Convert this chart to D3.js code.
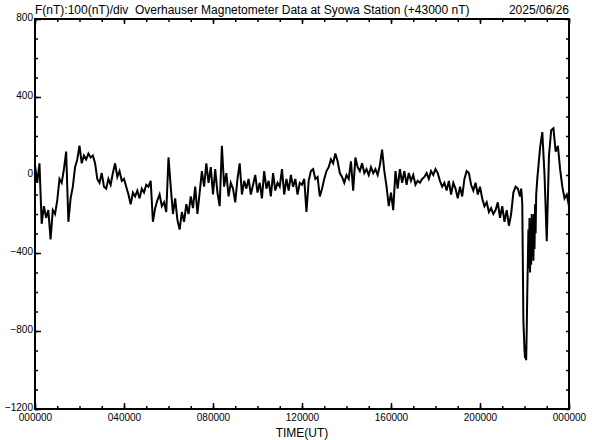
<!DOCTYPE html>
<html lang="en">
<head>
<meta charset="UTF-8">
<title>Overhauser Magnetometer Data at Syowa Station</title>
<script src="https://d3js.org/d3.v7.min.js"></script>
<style>
  body { margin: 0; background: #fff; }
  svg { display: block; }
  .ttl { font-family: "Liberation Sans", Arial, sans-serif; font-size: 12px; fill: #000; white-space: pre; }
  .tick text { font-family: "Liberation Sans", Arial, sans-serif; font-size: 10px; fill: #000; }
  .tick line { stroke: #000; stroke-width: 1.5px; }
</style>
</head>
<body>
<svg width="592" height="440"></svg>
<script>
// labels
const titleText = "F(nT):100(nT)/div  Overhauser Magnetometer Data at Syowa Station (+43000 nT)"
const dateText = "2025/06/26"
const xTitle = "TIME(UT)"
const xTickHours = [0, 4, 8, 12, 16, 20, 24]
const xTickLabels = ["000000", "040000", "080000", "120000", "160000", "200000", "000000"]
const yTicks = [800, 400, 0, -400, -800, -1200]

// F deviation from 43000 nT
// 00:00 - 21:42 UT, every 6 min
const quietStart = 0, quietStep = 0.1
const fQuiet = [
  50, -40, 60, -250, -160, -220, -180, -330, -180, -200,
  -130, -20, -40, 30, 120, -240, -120, -60, 40, 80,
  150, 60, 100, 80, 110, 90, 100, 60, -20, -40,
  10, -60, -70, -20, -50, 10, 60, -10, 20, -30,
  -20, -60, -100, -150, -90, -110, -80, -120, -70, -90,
  -50, -60, -30, -240, -170, -130, -100, -160, -140, -190,
  90, -60, -200, -120, -230, -280, -190, -240, -150, -200,
  -110, -170, -60, -200, -90, 20, -60, 60, -40, 40,
  -100, 30, -90, -160, 150, -60, 10, -110, -40, -70,
  -140, -20, 60, -100, -30, -70, -20, -100, -50, 0,
  -90, -40, -120, 20, -70, -30, -110, 10, -80, -40,
  -60, 30, -100, -20, -80, 0, -60, -20, -100, -40,
  -50, -20, -190, -30, 20, 30, -20, -10, -110, -70,
  -20, 20, 40, 80, 60, 110, 70, 10, -10, -40,
  0, -20, 70, -80, 90, 40, 20, 60, 10, 30,
  0, 40, 10, 30, 0, 50, 130, 20, -60, -160,
  -90, -180, 20, -70, 30, -40, 20, -50, 10, -30,
  0, -50, -30, -40, -20, -10, 10, -20, 20, 0,
  30, 10, -30, -60, -40, -80, -30, -100, -40, -70,
  -120, -60, -110, -20, 20, 10, -50, -80, -40, -100,
  -60, -120, -160, -140, -190, -170, -200, -180, -140, -220,
  -160, -240, -180, -260, -200, -90, -60, -70
]
// 21:48 - 22:34 UT, every 1.5 min (storm)
const stormStart = 21.8, stormStep = 0.025
const fStorm = [
  -110, -90, -70, -100, -150, -450, -750, -820, -900, -940,
  -880, -950, -800, -600, -450, -280, -480, -220, -500, -260,
  -460, -200, -420, -230, -440, -200, -380, -150, -300, -100,
  -60, -20
]
// 22:42 - 24:00 UT, every 6 min
const recoveryStart = 22.7, recoveryStep = 0.1
const fRecovery = [
  140, 220, 0, -340, 100, 230, 240, 120, 150, 30,
  -60, -120, -100, -160
]

const svg = d3.select("svg")
const mLeft = 35, mRight = 569, mTop = 19, mBottom = 409

const x = d3.scaleLinear().domain([0, 24]).range([mLeft, mRight])
const y = d3.scaleLinear().domain([-1200, 800]).range([mBottom, mTop])

function toPoints(vals, start, step) {
  return vals.map((v, i) => ({ h: start + i * step, v: v }))
}
const series = toPoints(fQuiet, quietStart, quietStep)
  .concat(toPoints(fStorm, stormStart, stormStep))
  .concat(toPoints(fRecovery, recoveryStart, recoveryStep))

// hourly minor ticks, 4-hourly major ticks
const minorX = d3.range(0, 25, 1)
const minorY = d3.range(-1200, 801, 100)

function noDomain(g) { g.select(".domain").remove() }

svg.append("g").attr("transform", `translate(0,${mBottom})`)
  .call(d3.axisBottom(x).tickValues(minorX).tickSize(-3).tickFormat(""))
  .call(noDomain)
svg.append("g").attr("transform", `translate(0,${mBottom})`)
  .call(d3.axisBottom(x).tickValues(xTickHours).tickSize(-6).tickPadding(9)
    .tickFormat((d, i) => xTickLabels[i]))
  .call(noDomain)
  .selectAll("text").attr("dy", "0.3em")

svg.append("g").attr("transform", `translate(0,${mTop})`)
  .call(d3.axisTop(x).tickValues(minorX).tickSize(-3).tickFormat(""))
  .call(noDomain)
svg.append("g").attr("transform", `translate(0,${mTop})`)
  .call(d3.axisTop(x).tickValues(xTickHours).tickSize(-5).tickFormat(""))
  .call(noDomain)

svg.append("g").attr("transform", `translate(${mLeft},0)`)
  .call(d3.axisLeft(y).tickValues(minorY).tickSize(-3).tickFormat(""))
  .call(noDomain)
svg.append("g").attr("transform", `translate(${mLeft},0)`)
  .call(d3.axisLeft(y).tickValues(yTicks).tickSize(-6).tickPadding(2).tickFormat(d3.format("d")))
  .call(noDomain)
  .selectAll("text").attr("dy", "0.12em")

svg.append("g").attr("transform", `translate(${mRight},0)`)
  .call(d3.axisRight(y).tickValues(minorY).tickSize(-3).tickFormat(""))
  .call(noDomain)

// frame
svg.append("rect")
  .attr("x", mLeft).attr("y", mTop)
  .attr("width", mRight - mLeft).attr("height", mBottom - mTop)
  .attr("fill", "none").attr("stroke", "#000").attr("stroke-width", 2)

// data line
const line = d3.line().x(d => x(d.h)).y(d => y(d.v))
svg.append("path")
  .datum(series)
  .attr("d", line)
  .attr("fill", "none")
  .attr("stroke", "#000")
  .attr("stroke-width", 2)
  .attr("stroke-linejoin", "miter")

// texts
svg.append("text").attr("class", "ttl")
  .attr("x", mLeft).attr("y", 14)
  .text(titleText)
svg.append("text").attr("class", "ttl")
  .attr("x", mRight).attr("y", 14).attr("text-anchor", "end")
  .text(dateText)
svg.append("text").attr("class", "ttl")
  .attr("x", (mLeft + mRight) / 2).attr("y", 437).attr("text-anchor", "middle")
  .text(xTitle)
</script>
</body>
</html>
